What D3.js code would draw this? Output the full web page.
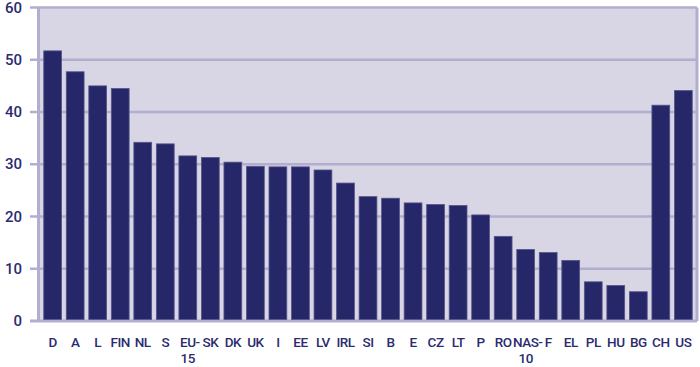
<!DOCTYPE html>
<html>
<head>
<meta charset="utf-8">
<script src="https://cdn.jsdelivr.net/npm/d3@7"></script>
<style>
  body { margin: 0; background: #fff; }
  text { font-family: Roboto, "Liberation Sans", sans-serif; fill: #2b2b6f; font-weight: 500; }
</style>
</head>
<body>
<div id="chart"></div>
<script>
// Categories (country codes) and their values
const countries = ["D", "A", "L", "FIN", "NL", "S", "EU-15", "SK", "DK", "UK", "I", "EE", "LV", "IRL",
  "SI", "B", "E", "CZ", "LT", "P", "RO", "NAS-10", "F", "EL", "PL", "HU", "BG", "CH", "US"];
const values = [51.7, 47.7, 45.0, 44.5, 34.2, 33.9, 31.6, 31.3, 30.4, 29.6, 29.5, 29.5, 28.9, 26.4,
  23.8, 23.5, 22.6, 22.3, 22.1, 20.3, 16.2, 13.7, 13.1, 11.6, 7.5, 6.8, 5.6, 41.3, 44.1];
const yTicks = [0, 10, 20, 30, 40, 50, 60];

const data = countries.map((c, i) => ({ name: c, value: values[i] }));

const width = 700, height = 367;
const plot = { left: 38.5, right: 697, top: 7.5, bottom: 321 };

const svg = d3.select("#chart")
  .append("svg")
  .attr("width", width)
  .attr("height", height);

const x = d3.scaleBand()
  .domain(countries)
  .range([41.5, 694.5])
  .paddingInner(0.21)
  .paddingOuter(0.1);

const y = d3.scaleLinear()
  .domain([0, 60])
  .range([plot.bottom, plot.top]);

// Plot background
svg.append("rect")
  .attr("x", plot.left)
  .attr("y", plot.top)
  .attr("width", plot.right - plot.left)
  .attr("height", plot.bottom - plot.top)
  .attr("fill", "#d8d5e5");

// Gridlines (extend left past the frame as tick marks)
svg.append("g")
  .selectAll("line")
  .data(yTicks)
  .join("line")
  .attr("x1", 30)
  .attr("x2", plot.right)
  .attr("y1", d => y(d))
  .attr("y2", d => y(d))
  .attr("stroke", "#b2aed0")
  .attr("stroke-width", d => d === 0 ? 3 : 2.5);

// Left and right frame lines
svg.append("line")
  .attr("x1", plot.left).attr("x2", plot.left)
  .attr("y1", plot.top).attr("y2", plot.bottom)
  .attr("stroke", "#b2aed0").attr("stroke-width", 3);

svg.append("line")
  .attr("x1", plot.right).attr("x2", plot.right)
  .attr("y1", plot.top).attr("y2", plot.bottom)
  .attr("stroke", "#b2aed0").attr("stroke-width", 3);

// Bars
svg.append("g")
  .selectAll("rect")
  .data(data)
  .join("rect")
  .attr("x", d => x(d.name))
  .attr("y", d => y(d.value))
  .attr("width", x.bandwidth())
  .attr("height", d => y(0) - 1.5 - y(d.value))
  .attr("fill", "#262769")
  .attr("stroke", "#55558a")
  .attr("stroke-width", 0.8);

// Y tick labels
svg.append("g")
  .selectAll("text")
  .data(yTicks)
  .join("text")
  .attr("x", 22)
  .attr("y", d => y(d) + 5)
  .attr("text-anchor", "end")
  .style("font-size", "15px")
  .text(d => d);

// X labels; hyphenated names wrap onto two lines, the hyphen hangs past the centred part
const xLabels = svg.append("g")
  .style("font-size", "13.5px")
  .style("letter-spacing", "-0.5px");

countries.forEach(d => {
  const cx = x(d) + x.bandwidth() / 2;
  if (d.includes("-")) {
    const [head, tail] = d.split("-");
    const first = xLabels.append("text")
      .attr("x", cx)
      .attr("y", 346.5)
      .attr("text-anchor", "middle")
      .text(head);
    const w = first.node().getComputedTextLength();
    xLabels.append("text")
      .attr("x", cx + w / 2)
      .attr("y", 346.5)
      .text("-");
    xLabels.append("text")
      .attr("x", cx)
      .attr("y", 362.5)
      .attr("text-anchor", "middle")
      .text(tail);
  } else {
    xLabels.append("text")
      .attr("x", cx)
      .attr("y", 346.5)
      .attr("text-anchor", "middle")
      .text(d);
  }
});
</script>
</body>
</html>
